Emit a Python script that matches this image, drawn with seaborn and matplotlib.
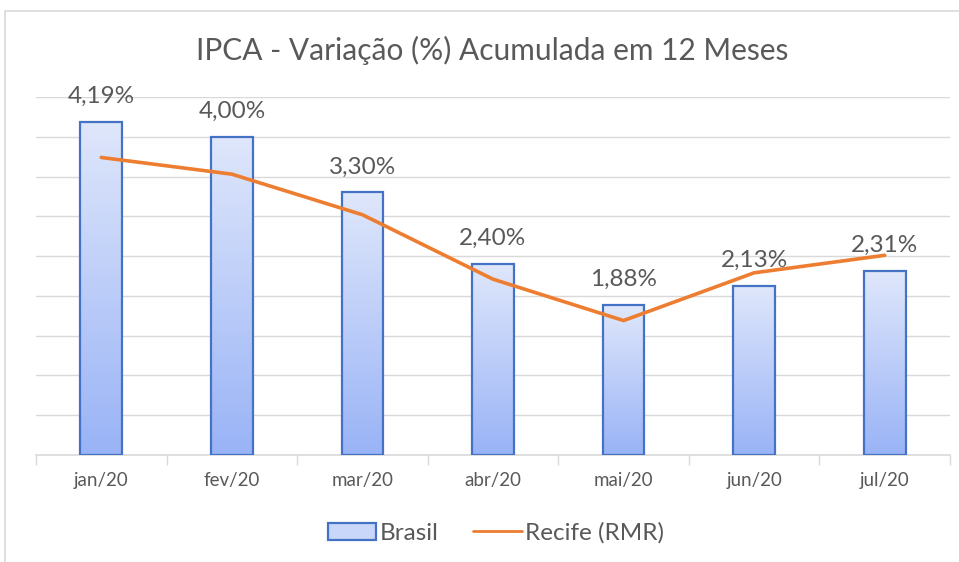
import matplotlib.pyplot as plt
import numpy as np
import pandas as pd
import seaborn as sns
from matplotlib.colors import LinearSegmentedColormap
from matplotlib.lines import Line2D
from matplotlib.patches import Patch, Rectangle

months = ["jan/20", "fev/20", "mar/20", "abr/20", "mai/20", "jun/20", "jul/20"]
brasil = [4.19, 4.00, 3.30, 2.40, 1.88, 2.13, 2.31]
recife = [3.74, 3.53, 3.02, 2.21, 1.69, 2.29, 2.51]
bar_labels = ["4,19%", "4,00%", "3,30%", "2,40%", "1,88%", "2,13%", "2,31%"]

df = pd.DataFrame({"mes": months, "brasil": brasil, "recife": recife})

sns.set_theme(style="white")
plt.rcParams["font.family"] = ["Lato", "DejaVu Sans"]

text_gray = "#595959"
grid_gray = "#d9d9d9"
edge_blue = "#4472c4"
line_orange = "#ed7d31"

fig = plt.figure(figsize=(9.59, 5.62), dpi=100)
ax = fig.add_axes([36 / 959, 1 - 455 / 562, 914 / 959, (455 - 97) / 562])

# outer chart frame like the excel chart area
fig.patches.append(Rectangle((5 / 959, -0.1), 1.2, 1.1 - 11 / 562, transform=fig.transFigure,
                             fill=False, edgecolor=grid_gray, linewidth=1.2))

sns.barplot(data=df, x="mes", y="brasil", ax=ax, width=0.32,
            color="#c9d7fa", edgecolor=edge_blue, linewidth=1.6, zorder=3)

ax.set_xlim(-0.5, len(months) - 0.5)
ax.set_ylim(0, 4.5)

# gradient fill inside the bars
cmap = LinearSegmentedColormap.from_list("grad", ["#99b3f6", "#dfe7fb"])
grad = np.linspace(0, 1, 256).reshape(-1, 1)
for bar in ax.patches:
    x0, y0 = bar.get_x(), bar.get_y()
    w, h = bar.get_width(), bar.get_height()
    im = ax.imshow(grad, cmap=cmap, origin="lower", aspect="auto",
                   extent=[x0, x0 + w, y0, y0 + h], zorder=2.5)
    im.set_clip_path(bar)
    bar.set_facecolor("none")

ax.set_xlim(-0.5, len(months) - 0.5)
ax.set_ylim(0, 4.5)

sns.lineplot(x=np.arange(len(months)), y=df["recife"], ax=ax, color=line_orange,
             linewidth=2.6, zorder=4)

for i, (v, lab) in enumerate(zip(brasil, bar_labels)):
    ax.text(i, v + 0.19, lab, ha="center", va="bottom", fontsize=17.5,
            color=text_gray, zorder=5, clip_on=False)

ax.set_yticks(np.arange(0.5, 4.51, 0.5))
ax.set_yticklabels([])
ax.tick_params(axis="y", length=0)
ax.yaxis.grid(True, color=grid_gray, linewidth=1)
ax.set_axisbelow(True)

ax.set_xticks(np.arange(len(months)))
ax.set_xticklabels(months, fontsize=13.5, color=text_gray)
ax.set_xticks(np.arange(-0.5, len(months)), minor=True)
ax.tick_params(axis="x", which="major", length=0, pad=12)
ax.tick_params(axis="x", which="minor", length=7, color=grid_gray, width=1, bottom=True)
ax.set_xlabel("")
ax.set_ylabel("")

for s in ["top", "right", "left"]:
    ax.spines[s].set_visible(False)
ax.spines["bottom"].set_color(grid_gray)
ax.spines["bottom"].set_linewidth(1.2)

fig.text(492 / 959, 1 - 50 / 562, "IPCA - Variação (%) Acumulada em 12 Meses",
         ha="center", va="center", fontsize=21.5, color=text_gray)

handles = [Patch(facecolor="#c9d7fa", edgecolor=edge_blue, linewidth=1.6),
           Line2D([0], [0], color=line_orange, linewidth=2)]
fig.legend(handles, ["Brasil", "Recife (RMR)"], loc="center",
           bbox_to_anchor=(496 / 959, 1 - 533 / 562), ncol=2, frameon=False,
           fontsize=17.5, labelcolor=text_gray, handlelength=2.0, handletextpad=0.15,
           columnspacing=1.4)

fig.savefig("out.png", dpi=100)
